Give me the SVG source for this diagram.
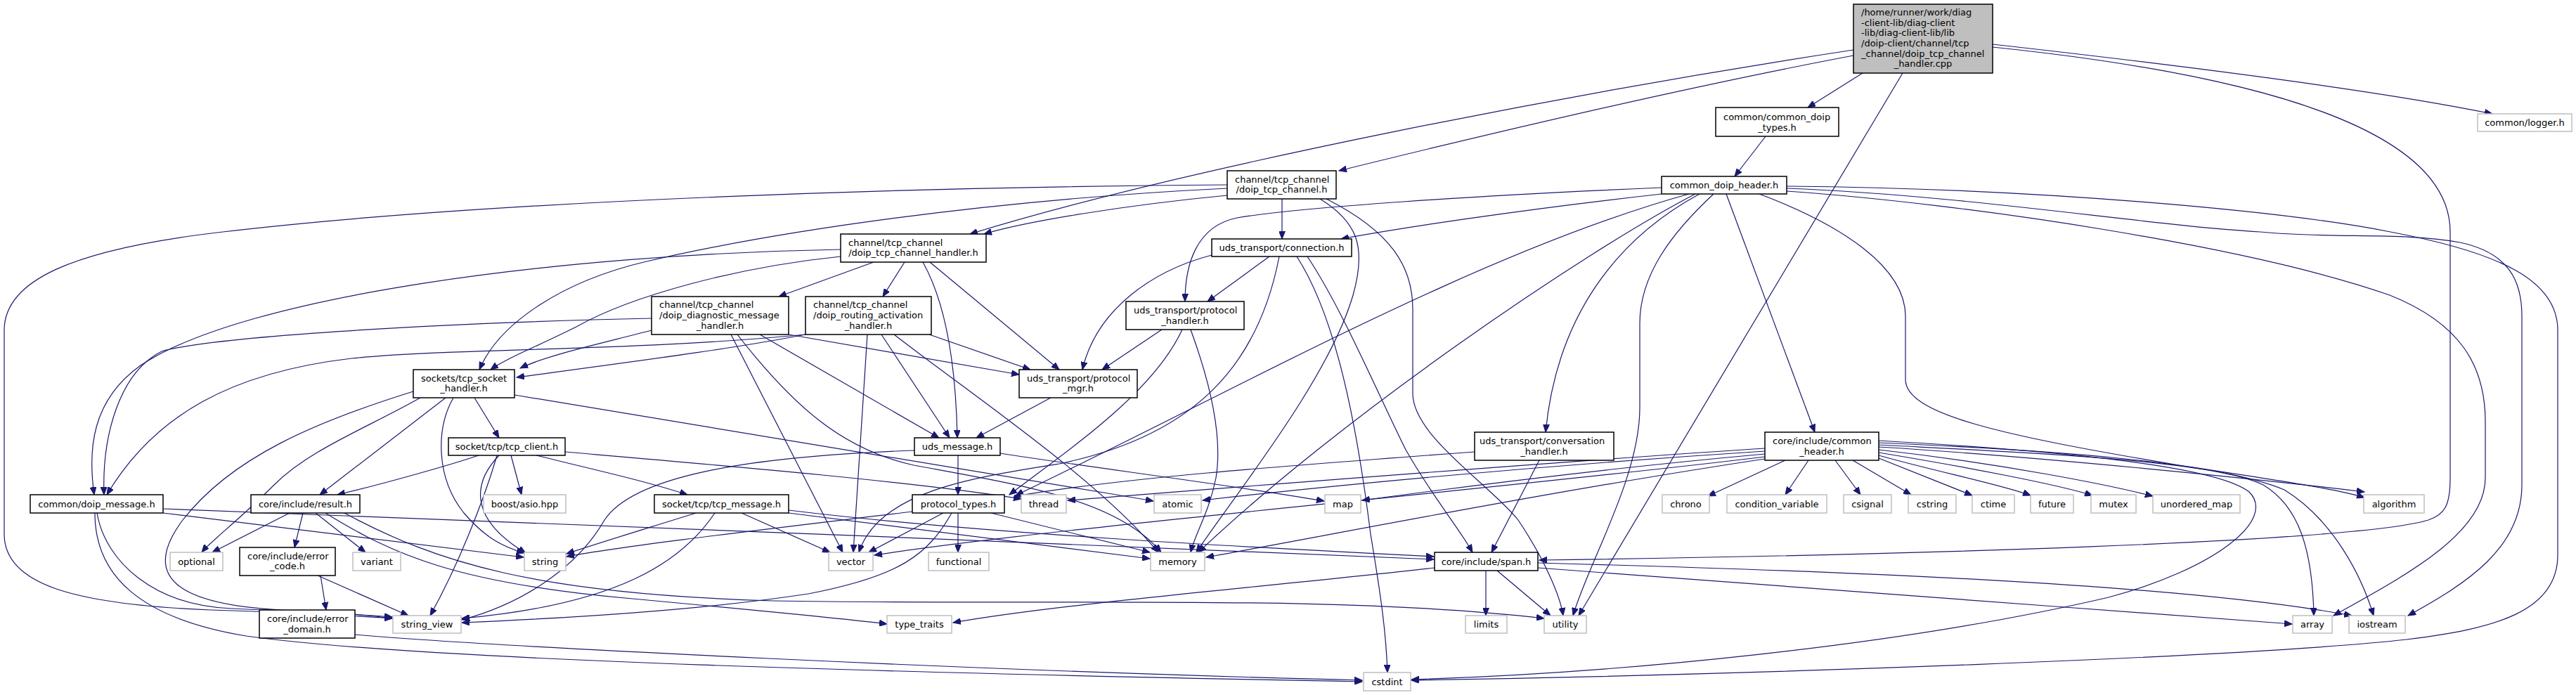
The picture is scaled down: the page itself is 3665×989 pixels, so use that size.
<svg xmlns="http://www.w3.org/2000/svg" width="3665" height="989" viewBox="0 0 3665 989">
<style>
.edge path{fill:none;stroke:#191970;stroke-width:1.2}
.n rect{fill:#fff;stroke:#000;stroke-width:1.5}
.x rect{fill:#fff;stroke:#bfbfbf;stroke-width:1.5}
.r rect{fill:#bfbfbf;stroke:#000;stroke-width:1.5}
text{font-family:"DejaVu Sans","Liberation Sans",sans-serif;font-size:13px;fill:#000}
.m{text-anchor:middle}
</style>
<defs>
<marker id="ah" markerWidth="12" markerHeight="9" refX="11" refY="4.5" orient="auto" markerUnits="userSpaceOnUse">
<path d="M0,0 L11,4.5 L0,9 z" fill="#191970" stroke="#191970" stroke-width="1"/>
</marker>
</defs>
<rect width="3665" height="989" fill="#fff"/>
<g id="edges" class="edge" marker-end="url(#ah)">
<path marker-end="url(#ah)" d="M2650,104 L2572,153"/>
<path marker-end="url(#ah)" d="M2835,63 C3120,95 3380,128 3546,162"/>
<path marker-end="url(#ah)" d="M2637,79 C2420,120 2160,180 1905,243"/>
<path marker-end="url(#ah)" d="M2637,71 C2250,130 1700,235 1380,333"/>
<path marker-end="url(#ah)" d="M2707,104 L2246,876"/>
<path marker-end="url(#ah)" d="M2835,67 C3200,105 3486,180 3486,330 L3486,680 C3486,720 3478,732 3455,740 C3350,772 2700,790 2190,797"/>
<path marker-end="url(#ah)" d="M2512,194 L2468,251"/>
<path marker-end="url(#ah)" d="M1746,278 C1600,292 1460,315 1400,333"/>
<path marker-end="url(#ah)" d="M1824,283 L1824,340"/>
<path marker-end="url(#ah)" d="M1746,268 C1400,285 1100,330 920,372 C800,400 710,460 682,526"/>
<path marker-end="url(#ah)" d="M1746,263 C1300,266 700,285 317,330 C100,355 6,400 6,470 L6,760 C6,830 100,860 300,868 C420,872 500,876 558,880"/>
<path marker-end="url(#ah)" d="M1878,283 C1930,315 1945,350 1925,420 C1890,540 1760,700 1702,786"/>
<path marker-end="url(#ah)" d="M1887,283 C1980,330 2010,380 2010,440 L2010,560 C2010,620 2120,690 2160,740 C2200,800 2220,850 2224,876"/>
<path marker-end="url(#ah)" d="M2364,276 C2150,300 1990,325 1908,340"/>
<path marker-end="url(#ah)" d="M2364,267 C2100,278 1850,295 1760,310 C1700,322 1686,380 1686,429"/>
<path marker-end="url(#ah)" d="M2403,276 C2100,360 1750,560 1445,705"/>
<path marker-end="url(#ah)" d="M2412,276 C2250,360 1900,600 1705,786"/>
<path marker-end="url(#ah)" d="M2418,276 C2300,340 2215,450 2199,615"/>
<path marker-end="url(#ah)" d="M2438,276 C2380,330 2333,390 2333,460 L2333,580 C2333,680 2260,800 2238,876"/>
<path marker-end="url(#ah)" d="M2456,276 L2582,615"/>
<path marker-end="url(#ah)" d="M2503,276 C2620,320 2711,380 2711,450 L2711,540 C2711,590 2850,620 3100,662 C3250,685 3330,697 3364,708"/>
<path marker-end="url(#ah)" d="M2542,272 C2800,290 3200,350 3400,420 C3500,460 3536,520 3536,600 L3536,680 C3536,760 3420,820 3320,876"/>
<path marker-end="url(#ah)" d="M2542,268 C2800,278 3050,320 3216,330 C3320,340 3420,330 3500,345 C3570,360 3588,400 3588,450 L3588,690 C3588,780 3510,830 3426,876"/>
<path marker-end="url(#ah)" d="M2542,265 C2900,268 3250,300 3401,330 C3560,360 3639,400 3639,470 L3639,790 C3639,870 3550,895 3424,910 C3200,935 2500,960 2008,968"/>
<path marker-end="url(#ah)" d="M1243,373 L1108,422"/>
<path marker-end="url(#ah)" d="M1287,373 L1256,422"/>
<path marker-end="url(#ah)" d="M1313,373 C1345,430 1360,520 1362,623"/>
<path marker-end="url(#ah)" d="M1323,373 L1507,526"/>
<path marker-end="url(#ah)" d="M1196,355 C800,362 350,420 200,520 C130,570 125,640 134,704"/>
<path marker-end="url(#ah)" d="M1196,365 C1050,380 900,420 820,465 C760,495 720,510 698,526"/>
<path marker-end="url(#ah)" d="M1806,365 L1718,429"/>
<path marker-end="url(#ah)" d="M1724,363 C1640,385 1560,440 1540,526"/>
<path marker-end="url(#ah)" d="M1845,365 C1900,450 1930,600 1950,760 C1965,850 1972,900 1974,957"/>
<path marker-end="url(#ah)" d="M1860,365 C1910,440 1960,560 2000,640 C2040,710 2075,750 2095,786"/>
<path marker-end="url(#ah)" d="M1820,365 C1790,520 1700,620 1507,660 C1380,680 1250,700 1222,786"/>
<path marker-end="url(#ah)" d="M927,453 C600,460 300,480 230,500 C170,530 145,620 148,704"/>
<path marker-end="url(#ah)" d="M927,470 C850,490 780,505 740,524"/>
<path marker-end="url(#ah)" d="M1040,476 L1199,786"/>
<path marker-end="url(#ah)" d="M1049,476 C1130,580 1200,640 1300,662 C1450,690 1590,710 1652,786"/>
<path marker-end="url(#ah)" d="M1081,476 L1336,623"/>
<path marker-end="url(#ah)" d="M1122,476 L1450,533"/>
<path marker-end="url(#ah)" d="M1146,476 C900,500 650,495 500,510 C330,530 220,590 152,704"/>
<path marker-end="url(#ah)" d="M1146,476 C1050,495 920,512 735,537"/>
<path marker-end="url(#ah)" d="M1234,476 L1214,786"/>
<path marker-end="url(#ah)" d="M1254,476 L1351,623"/>
<path marker-end="url(#ah)" d="M1272,476 C1380,560 1560,680 1648,786"/>
<path marker-end="url(#ah)" d="M1322,476 L1466,526"/>
<path marker-end="url(#ah)" d="M1653,469 L1568,526"/>
<path marker-end="url(#ah)" d="M1694,469 C1720,540 1740,620 1730,680 C1720,730 1700,760 1694,786"/>
<path marker-end="url(#ah)" d="M1682,469 C1640,560 1520,640 1436,704"/>
<path marker-end="url(#ah)" d="M1495,566 L1389,623"/>
<path marker-end="url(#ah)" d="M675,566 L710,623"/>
<path marker-end="url(#ah)" d="M588,557 C450,600 330,650 260,740 C200,820 250,860 400,868 C480,872 530,876 558,880"/>
<path marker-end="url(#ah)" d="M598,566 C520,610 440,640 390,690 C340,740 300,770 287,786"/>
<path marker-end="url(#ah)" d="M634,566 L455,704"/>
<path marker-end="url(#ah)" d="M645,566 C620,610 620,680 660,730 C690,765 715,778 746,787"/>
<path marker-end="url(#ah)" d="M732,562 C950,596 1300,655 1641,713"/>
<path marker-end="url(#ah)" d="M681,648 C640,662 540,690 480,704"/>
<path marker-end="url(#ah)" d="M707,648 C695,690 660,790 612,876"/>
<path marker-end="url(#ah)" d="M710,648 C670,690 670,740 748,787"/>
<path marker-end="url(#ah)" d="M727,648 L742,704"/>
<path marker-end="url(#ah)" d="M763,648 C860,672 920,685 978,704"/>
<path marker-end="url(#ah)" d="M804,643 C1000,660 1300,685 1453,710"/>
<path marker-end="url(#ah)" d="M1363,648 L1363,704"/>
<path marker-end="url(#ah)" d="M1301,641 C1050,650 900,680 860,740 C820,810 740,860 657,882"/>
<path marker-end="url(#ah)" d="M1423,645 C1550,665 1750,690 1884,713"/>
<path marker-end="url(#ah)" d="M1342,730 L1236,786"/>
<path marker-end="url(#ah)" d="M1363,730 L1363,786"/>
<path marker-end="url(#ah)" d="M1354,730 C1320,790 1280,820 1150,845 C1000,868 800,880 657,886"/>
<path marker-end="url(#ah)" d="M1410,730 L1636,786"/>
<path marker-end="url(#ah)" d="M1298,728 C1100,752 900,775 806,792"/>
<path marker-end="url(#ah)" d="M990,730 C920,752 860,770 806,788"/>
<path marker-end="url(#ah)" d="M1017,730 C970,800 880,860 657,880"/>
<path marker-end="url(#ah)" d="M1055,730 L1181,786"/>
<path marker-end="url(#ah)" d="M1122,726 C1400,760 1800,780 2040,792"/>
<path marker-end="url(#ah)" d="M1122,730 L1636,795"/>
<path marker-end="url(#ah)" d="M232,724 C700,745 1500,770 2040,796"/>
<path marker-end="url(#ah)" d="M232,730 L745,793"/>
<path marker-end="url(#ah)" d="M138,730 C150,800 220,862 330,866 C430,870 510,874 558,878"/>
<path marker-end="url(#ah)" d="M135,730 C135,820 200,880 350,905 C600,940 1300,958 1938,970"/>
<path marker-end="url(#ah)" d="M412,730 L302,786"/>
<path marker-end="url(#ah)" d="M431,730 L419,779"/>
<path marker-end="url(#ah)" d="M449,730 L520,786"/>
<path marker-end="url(#ah)" d="M463,730 C560,790 650,830 900,852 C1050,866 1200,880 1262,888"/>
<path marker-end="url(#ah)" d="M490,730 C620,800 760,845 1100,855 C1500,862 1900,845 2197,880"/>
<path marker-end="url(#ah)" d="M456,819 L464,868"/>
<path marker-end="url(#ah)" d="M452,819 L581,876"/>
<path marker-end="url(#ah)" d="M505,903 C700,920 1400,955 1938,968"/>
<path marker-end="url(#ah)" d="M2114,812 L2114,876"/>
<path marker-end="url(#ah)" d="M2130,812 L2206,876"/>
<path marker-end="url(#ah)" d="M2041,808 C1800,835 1500,860 1356,886"/>
<path marker-end="url(#ah)" d="M2188,808 C2500,830 2900,862 3261,888"/>
<path marker-end="url(#ah)" d="M2188,801 C2600,812 3100,830 3346,876"/>
<path marker-end="url(#ah)" d="M2098,643 C1800,665 1600,680 1445,706"/>
<path marker-end="url(#ah)" d="M2190,655 L2122,786"/>
<path marker-end="url(#ah)" d="M2511,638 C2200,658 1800,690 1519,712"/>
<path marker-end="url(#ah)" d="M2511,642 C2200,662 1900,690 1711,712"/>
<path marker-end="url(#ah)" d="M2511,646 C2300,665 2100,690 1938,712"/>
<path marker-end="url(#ah)" d="M2511,650 C2100,700 1500,750 1244,790"/>
<path marker-end="url(#ah)" d="M2511,653 C2200,700 1900,760 1716,793"/>
<path marker-end="url(#ah)" d="M2540,655 L2430,706"/>
<path marker-end="url(#ah)" d="M2573,655 L2540,704"/>
<path marker-end="url(#ah)" d="M2611,655 L2647,704"/>
<path marker-end="url(#ah)" d="M2636,655 L2719,704"/>
<path marker-end="url(#ah)" d="M2673,652 L2806,705"/>
<path marker-end="url(#ah)" d="M2673,648 C2750,670 2850,690 2889,705"/>
<path marker-end="url(#ah)" d="M2673,644 C2800,665 2930,690 2977,705"/>
<path marker-end="url(#ah)" d="M2673,640 C2850,660 3000,690 3063,706"/>
<path marker-end="url(#ah)" d="M2673,636 C2900,650 3200,680 3364,700"/>
<path marker-end="url(#ah)" d="M2673,633 C2900,645 3150,655 3220,690 C3270,720 3290,780 3292,876"/>
<path marker-end="url(#ah)" d="M2673,630 C2900,640 3150,655 3250,697 C3320,740 3360,820 3377,876"/>
<path marker-end="url(#ah)" d="M2673,627 C2900,640 3150,660 3200,700 C3240,740 3150,810 3000,850 C2700,920 2300,958 2008,967"/>
</g>
<g id="n1" class="r"><rect x="2637" y="6" width="198" height="98"/>
<text x="2648" y="22">/home/runner/work/diag</text><text x="2648" y="37">-client-lib/diag-client</text><text x="2648" y="51">-lib/diag-client-lib/lib</text><text x="2648" y="66">/doip-client/channel/tcp</text><text x="2648" y="81">_channel/doip_tcp_channel</text><text class="m" x="2736" y="95">_handler.cpp</text></g>
<g id="n2" class="n"><rect x="2441" y="153" width="175" height="41"/><text x="2452" y="170.5">common/common_doip</text><text class="m" x="2528.5" y="185.5">_types.h</text></g>
<g id="n3" class="x"><rect x="3525" y="162" width="134" height="25"/><text class="m" x="3592" y="179">common/logger.h</text></g>
<g id="n4" class="n"><rect x="1746" y="243" width="155" height="40"/><text x="1757" y="259.5">channel/tcp_channel</text><text class="m" x="1823.5" y="273.5">/doip_tcp_channel.h</text></g>
<g id="n5" class="n"><rect x="2364" y="251" width="178" height="25"/><text class="m" x="2453" y="268">common_doip_header.h</text></g>
<g id="n6" class="n"><rect x="1196" y="333" width="207" height="40"/><text x="1207" y="349.5">channel/tcp_channel</text><text class="m" x="1299.5" y="363.5">/doip_tcp_channel_handler.h</text></g>
<g id="n7" class="n"><rect x="1724" y="340" width="199" height="25"/><text class="m" x="1823.5" y="357">uds_transport/connection.h</text></g>
<g id="n8" class="n"><rect x="927" y="422" width="195" height="54"/><text x="938" y="437.5">channel/tcp_channel</text><text x="938" y="452.5">/doip_diagnostic_message</text><text class="m" x="1024.5" y="467.5">_handler.h</text></g>
<g id="n9" class="n"><rect x="1146" y="422" width="179" height="54"/><text x="1157" y="437.5">channel/tcp_channel</text><text x="1157" y="452.5">/doip_routing_activation</text><text class="m" x="1235.5" y="467.5">_handler.h</text></g>
<g id="n10" class="n"><rect x="1602" y="429" width="168" height="40"/><text x="1613" y="445.5">uds_transport/protocol</text><text class="m" x="1686" y="460.5">_handler.h</text></g>
<g id="n11" class="n"><rect x="588" y="526" width="144" height="40"/><text x="599" y="542.5">sockets/tcp_socket</text><text class="m" x="660" y="556.5">_handler.h</text></g>
<g id="n12" class="n"><rect x="1450" y="526" width="168" height="40"/><text x="1461" y="542.5">uds_transport/protocol</text><text class="m" x="1534" y="556.5">_mgr.h</text></g>
<g id="n13" class="n"><rect x="2098" y="615" width="198" height="40"/><text x="2105" y="631.5">uds_transport/conversation</text><text class="m" x="2197" y="646.5">_handler.h</text></g>
<g id="n14" class="n"><rect x="2511" y="615" width="162" height="40"/><text x="2522" y="631.5">core/include/common</text><text class="m" x="2592" y="646.5">_header.h</text></g>
<g id="n15" class="n"><rect x="638" y="623" width="166" height="25"/><text class="m" x="721" y="640">socket/tcp/tcp_client.h</text></g>
<g id="n16" class="n"><rect x="1301" y="623" width="122" height="25"/><text class="m" x="1362" y="640">uds_message.h</text></g>
<g id="n17" class="n"><rect x="43" y="704" width="189" height="26"/><text class="m" x="137.5" y="721.5">common/doip_message.h</text></g>
<g id="n18" class="n"><rect x="357" y="704" width="155" height="26"/><text class="m" x="434.5" y="721.5">core/include/result.h</text></g>
<g id="n19" class="x"><rect x="688" y="704" width="117" height="26"/><text class="m" x="746.5" y="721.5">boost/asio.hpp</text></g>
<g id="n20" class="n"><rect x="931" y="704" width="191" height="26"/><text class="m" x="1026.5" y="721.5">socket/tcp/tcp_message.h</text></g>
<g id="n21" class="n"><rect x="1298" y="704" width="131" height="26"/><text class="m" x="1363.5" y="721.5">protocol_types.h</text></g>
<g id="n22" class="x"><rect x="1453" y="704" width="64" height="26"/><text class="m" x="1485" y="721.5">thread</text></g>
<g id="n23" class="x"><rect x="1642" y="704" width="67" height="26"/><text class="m" x="1675.5" y="721.5">atomic</text></g>
<g id="n24" class="x"><rect x="1885" y="704" width="51" height="26"/><text class="m" x="1910.5" y="721.5">map</text></g>
<g id="n25" class="x"><rect x="2365" y="704" width="67" height="26"/><text class="m" x="2398.5" y="721.5">chrono</text></g>
<g id="n26" class="x"><rect x="2457" y="704" width="142" height="26"/><text class="m" x="2528" y="721.5">condition_variable</text></g>
<g id="n27" class="x"><rect x="2623" y="704" width="68" height="26"/><text class="m" x="2657" y="721.5">csignal</text></g>
<g id="n28" class="x"><rect x="2715" y="704" width="68" height="26"/><text class="m" x="2749" y="721.5">cstring</text></g>
<g id="n29" class="x"><rect x="2806" y="704" width="60" height="26"/><text class="m" x="2836" y="721.5">ctime</text></g>
<g id="n30" class="x"><rect x="2889" y="704" width="61" height="26"/><text class="m" x="2919.5" y="721.5">future</text></g>
<g id="n31" class="x"><rect x="2975" y="704" width="64" height="26"/><text class="m" x="3007" y="721.5">mutex</text></g>
<g id="n32" class="x"><rect x="3063" y="704" width="124" height="26"/><text class="m" x="3125" y="721.5">unordered_map</text></g>
<g id="n33" class="x"><rect x="3363" y="704" width="86" height="26"/><text class="m" x="3406" y="721.5">algorithm</text></g>
<g id="n34" class="x"><rect x="242" y="786" width="75" height="26"/><text class="m" x="279.5" y="803.5">optional</text></g>
<g id="n35" class="n"><rect x="341" y="779" width="136" height="40"/><text x="352" y="795.5">core/include/error</text><text class="m" x="409" y="809.5">_code.h</text></g>
<g id="n36" class="x"><rect x="502" y="786" width="68" height="26"/><text class="m" x="536" y="803.5">variant</text></g>
<g id="n37" class="x"><rect x="746" y="786" width="59" height="26"/><text class="m" x="775.5" y="803.5">string</text></g>
<g id="n38" class="x"><rect x="1179" y="786" width="63" height="26"/><text class="m" x="1210.5" y="803.5">vector</text></g>
<g id="n39" class="x"><rect x="1321" y="786" width="86" height="26"/><text class="m" x="1364" y="803.5">functional</text></g>
<g id="n40" class="x"><rect x="1637" y="786" width="77" height="26"/><text class="m" x="1675.5" y="803.5">memory</text></g>
<g id="n41" class="n"><rect x="2041" y="786" width="147" height="26"/><text class="m" x="2114.5" y="803.5">core/include/span.h</text></g>
<g id="n42" class="n"><rect x="369" y="868" width="136" height="40"/><text x="380" y="884.5">core/include/error</text><text class="m" x="437" y="899.5">_domain.h</text></g>
<g id="n43" class="x"><rect x="559" y="876" width="97" height="25"/><text class="m" x="607.5" y="893">string_view</text></g>
<g id="n44" class="x"><rect x="1262" y="876" width="92" height="25"/><text class="m" x="1308" y="893">type_traits</text></g>
<g id="n45" class="x"><rect x="2085" y="876" width="59" height="25"/><text class="m" x="2114.5" y="893">limits</text></g>
<g id="n46" class="x"><rect x="2197" y="876" width="60" height="25"/><text class="m" x="2227" y="893">utility</text></g>
<g id="n47" class="x"><rect x="3262" y="876" width="56" height="25"/><text class="m" x="3290" y="893">array</text></g>
<g id="n48" class="x"><rect x="3342" y="876" width="80" height="25"/><text class="m" x="3382" y="893">iostream</text></g>
<g id="n49" class="x"><rect x="1940" y="957" width="67" height="26"/><text class="m" x="1973.5" y="974.5">cstdint</text></g>
</svg>
